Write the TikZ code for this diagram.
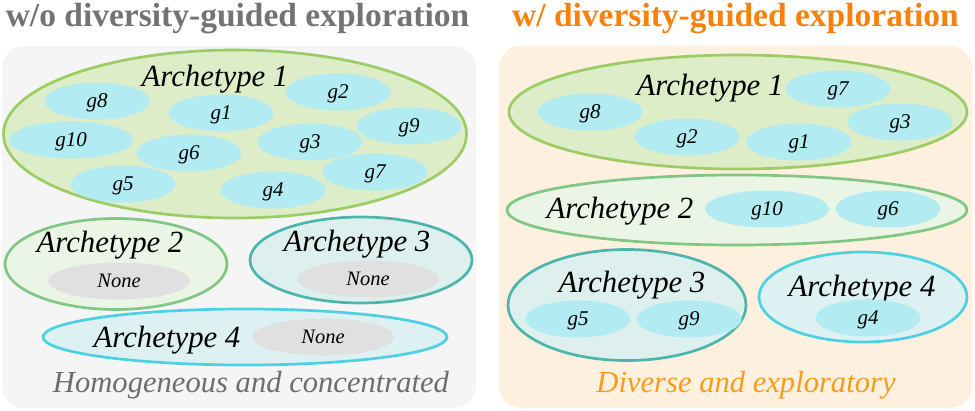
\documentclass[tikz,border=0pt]{standalone}
\usepackage{fontspec}
\newfontfamily\libser{Liberation Serif}
\usetikzlibrary{shapes.geometric}
\definecolor{panelL}{HTML}{F5F5F5}
\definecolor{panelR}{HTML}{FEF0DE}
\definecolor{genec}{HTML}{B2EBF2}
\definecolor{aonefill}{HTML}{DCEDC8}
\definecolor{aonedraw}{HTML}{9CCC65}
\definecolor{atwofill}{HTML}{EAF5E6}
\definecolor{atwodraw}{HTML}{81C784}
\definecolor{athreefill}{HTML}{DDF0EE}
\definecolor{athreedraw}{HTML}{4DB6AC}
\definecolor{afourfill}{HTML}{DDF1F2}
\definecolor{afourdraw}{HTML}{4DD0E1}
\definecolor{nonec}{HTML}{E0E0E0}
\definecolor{graytitle}{HTML}{737373}
\definecolor{orangetitle}{HTML}{F5820F}
\definecolor{orangesub}{HTML}{F99B1C}
\definecolor{graysub}{HTML}{6E6E6E}
\begin{document}
\begin{tikzpicture}[x=1pt,y=-1pt,
  panel/.style={rounded corners=22pt},
  arch/.style={ellipse, draw, line width=2.7pt, inner sep=0pt},
  aone/.style={arch, draw=aonedraw, fill=aonefill},
  atwo/.style={arch, draw=atwodraw, fill=atwofill},
  athree/.style={arch, draw=athreedraw, fill=athreefill},
  afour/.style={arch, draw=afourdraw, fill=afourfill},
  blob/.style={ellipse, inner sep=0pt, minimum width=105pt, minimum height=37pt, text depth=0pt,
    font=\libser\fontsize{21}{21}\selectfont\itshape},
  gene/.style={blob, fill=genec},
  wgene/.style={gene, minimum width=124pt},
  nonebox/.style={blob, fill=nonec, minimum width=142pt, font=\libser\fontsize{20.5}{20.5}\selectfont\itshape},
  lab/.style={anchor=base, inner sep=0pt, font=\libser\fontsize{30.8}{30.8}\selectfont\itshape},
  title/.style={anchor=base, inner sep=0pt, font=\libser\fontsize{33.5}{33.5}\selectfont\bfseries},
  sub/.style={anchor=base, inner sep=0pt, font=\libser\fontsize{30.6}{30.6}\selectfont\itshape}
]
\useasboundingbox (0,0) rectangle (975,410);

% panels
\fill[panelL, panel] (2,46) rectangle (476,408);
\fill[panelR, panel] (499,46) rectangle (972,408);

% titles
\node[title, text=graytitle] (tL) at (237.5,26) {w/o diversity-guided exploration};
\node[title, text=orangetitle] (tR) at (735.5,26) {w/ diversity-guided exploration};

% ---------- left panel ----------
\node[aone, minimum width=463pt, minimum height=168pt] (LA1) at (235,134) {};
\node[atwo, minimum width=222pt, minimum height=91pt] (LA2) at (116,264) {};
\node[athree, minimum width=222pt, minimum height=86pt] (LA3) at (361,260) {};
\node[afour, minimum width=404pt, minimum height=56pt] (LA4) at (245,337) {};

\node[gene] (Lg8) at (97,101) {g8};
\node[gene] (Lg1) at (221,113) {g1};
\node[gene] (Lg2) at (338,92) {g2};
\node[wgene] (Lg10) at (71,140) {g10};
\node[gene] (Lg9) at (409,126) {g9};
\node[gene] (Lg3) at (310,142) {g3};
\node[gene] (Lg6) at (189,153) {g6};
\node[gene] (Lg7) at (375,172) {g7};
\node[gene] (Lg5) at (123,184) {g5};
\node[gene] (Lg4) at (273,190) {g4};

\node[lab] (LA1t) at (215,86) {Archetype 1};
\node[lab] (LA2t) at (110,252) {Archetype 2};
\node[nonebox] (LN2) at (119,281) {None};
\node[lab] (LA3t) at (357,251) {Archetype 3};
\node[nonebox] (LN3) at (368,279) {None};
\node[lab] (LA4t) at (167,347) {Archetype 4};
\node[nonebox] (LN4) at (323,337) {None};

\node[sub, text=graysub] (sL) at (251,392) {Homogeneous and concentrated};

% ---------- right panel ----------
\node[aone, minimum width=458pt, minimum height=114pt] (RA1) at (738,112) {};
\node[atwo, minimum width=460pt, minimum height=70pt] (RA2) at (737,210) {};
\node[athree, minimum width=238pt, minimum height=111pt] (RA3) at (627,305) {};
\node[afour, minimum width=208pt, minimum height=90pt] (RA4) at (863,297) {};

\node[lab] (RA1t) at (710,95) {Archetype 1};
\node[gene] (Rg7) at (838,89) {g7};
\node[gene] (Rg8) at (590,112) {g8};
\node[gene] (Rg3) at (900,122) {g3};
\node[gene] (Rg2) at (687,137) {g2};
\node[gene] (Rg1) at (799,142) {g1};

\node[lab] (RA2t) at (620,218) {Archetype 2};
\node[wgene] (Rg10) at (767,209) {g10};
\node[gene] (Rg6) at (888,209) {g6};

\node[lab] (RA3t) at (632,292) {Archetype 3};
\node[gene] (Rg5) at (578,319) {g5};
\node[gene] (Rg9) at (689,319) {g9};

\node[lab] (RA4t) at (862,296) {Archetype 4};
\node[gene] (Rg4) at (868,318) {g4};

\node[sub, text=orangesub] (sR) at (746,392) {Diverse and exploratory};
\end{tikzpicture}
\end{document}
